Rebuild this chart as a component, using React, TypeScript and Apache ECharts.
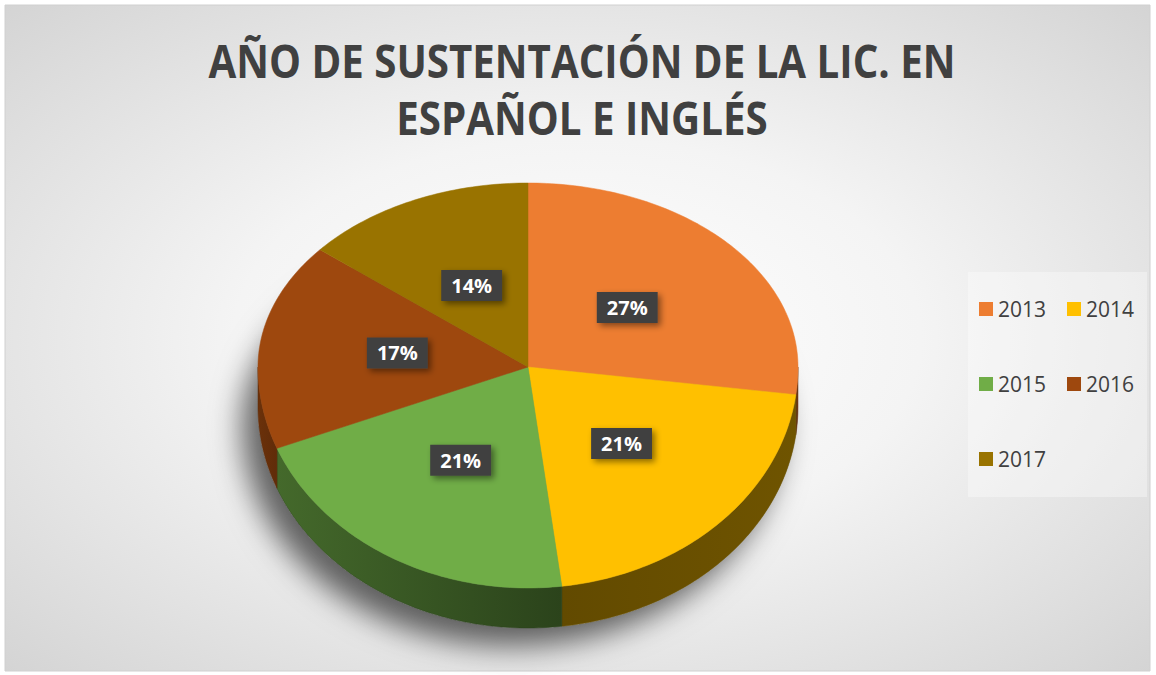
import React, { useEffect, useRef } from "react";
import * as echarts from "echarts";

const categories = ["2013", "2014", "2015", "2016", "2017"];
const values = [27, 21, 21, 17, 14];
const colors = ["#ED7D31", "#FFC000", "#70AD47", "#9E480E", "#997300"];
const titleLines = ["AÑO DE SUSTENTACIÓN DE LA LIC. EN", "ESPAÑOL E INGLÉS"];

// pie geometry (pixels)
const CX = 528;
const CY = 367;
const RX = 270;
const RY_TOP = 184;
const RY_BOT = 221;
const DEPTH = 40;
const LABEL_K = 0.49;

function pt(deg: number, dy: number, k = 1): number[] {
  const r = (deg * Math.PI) / 180;
  const s = Math.sin(r);
  const c = Math.cos(r);
  return [CX + k * RX * s, CY - k * c * (c > 0 ? RY_TOP : RY_BOT) + dy];
}

function arc(a: number, b: number, dy: number): number[][] {
  const pts: number[][] = [];
  const n = Math.max(2, Math.ceil(Math.abs(b - a)));
  for (let j = 0; j <= n; j++) pts.push(pt(a + ((b - a) * j) / n, dy));
  return pts;
}

function shade(hex: string, f: number): string {
  const n = parseInt(hex.slice(1), 16);
  const r = Math.round(((n >> 16) & 255) * f);
  const g = Math.round(((n >> 8) & 255) * f);
  const b = Math.round((n & 255) * f);
  return `rgb(${r},${g},${b})`;
}

function sideF(deg: number): number {
  return deg <= 180 ? 0.44 - (0.06 * (deg - 90)) / 90 : 0.38 + (0.3 * (deg - 180)) / 90;
}

export default function App() {
  const ref = useRef<HTMLDivElement>(null);
  useEffect(() => {
    document.body.style.margin = "0";
    if (!ref.current) return;
    const chart = echarts.init(ref.current, undefined, { renderer: "svg" });
    const total = values.reduce((a, b) => a + b, 0);
    const starts: number[] = [];
    let acc = 0;
    values.forEach((v) => {
      starts.push((acc / total) * 360);
      acc += v;
    });

    const renderItem = (params: any, api: any) => {
      const i = params.dataIndex;
      const v = api.value(0);
      const a0 = starts[i];
      const a1 = a0 + (v / total) * 360;
      const col = colors[i];
      const children: any[] = [];
      if (i === 0) {
        children.push({
          type: "polygon",
          z2: 0,
          shape: { points: arc(0, 360, DEPTH) },
          style: {
            fill: "#8a8a8a",
            shadowBlur: 30,
            shadowColor: "rgba(0,0,0,0.6)",
            shadowOffsetX: -16,
            shadowOffsetY: 18,
          },
        });
      }
      const a = Math.max(a0, 90);
      const b = Math.min(a1, 270);
      if (a < b) {
        const top = arc(a, b, 0);
        const bot = arc(b, a, DEPTH);
        children.push({
          type: "polygon",
          z2: 5,
          shape: { points: top.concat(bot) },
          style: {
            fill: new echarts.graphic.LinearGradient(1, 0, 0, 0, [
              { offset: 0, color: shade(col, sideF(a)) },
              { offset: 1, color: shade(col, sideF(b)) },
            ]),
            stroke: shade(col, sideF(a)),
            lineWidth: 0.5,
          },
        });
      }
      children.push({
        type: "polygon",
        z2: 10,
        shape: { points: [[CX, CY]].concat(arc(a0, a1, 0)) },
        style: { fill: col, stroke: col, lineWidth: 0.5 },
      });
      const mid = (a0 + a1) / 2;
      const lp = pt(mid, 0, LABEL_K);
      children.push({
        type: "text",
        z2: 100,
        x: lp[0],
        y: lp[1],
        style: {
          text: Math.round((v / total) * 100) + "%",
          fill: "#ffffff",
          font: 'bold 20px "Open Sans"',
          align: "center",
          verticalAlign: "middle",
          textAlign: "center",
          textVerticalAlign: "middle",
          backgroundColor: "#404040",
          padding: [6, 10, 5, 10],
          shadowBlur: 6,
          shadowColor: "rgba(0,0,0,0.45)",
          shadowOffsetX: 3,
          shadowOffsetY: 3,
        },
      });
      return { type: "group", children };
    };

    chart.setOption({
      animation: false,
      backgroundColor: "#ffffff",
      graphic: [
        {
          type: "rect",
          z: -10,
          shape: { x: 5, y: 5, width: 1145, height: 666 },
          style: {
            fill: new echarts.graphic.RadialGradient(0.5, 0.5, 1.0, [
              { offset: 0, color: "#ffffff" },
              { offset: 0.3, color: "#f4f4f4" },
              { offset: 1, color: "#bdbdbd" },
            ]),
            stroke: "#d0d0d0",
            lineWidth: 1,
          },
        },
        {
          type: "text",
          x: 582,
          y: 60,
          scaleX: 0.875,
          style: {
            text: titleLines[0],
            font: 'bold 46px "Open Sans"',
            fill: "#404040",
            textAlign: "center",
            textVerticalAlign: "middle",
          },
        },
        {
          type: "text",
          x: 582,
          y: 117,
          scaleX: 0.875,
          style: {
            text: titleLines[1],
            font: 'bold 46px "Open Sans"',
            fill: "#404040",
            textAlign: "center",
            textVerticalAlign: "middle",
          },
        },
      ],
      legend: {
        data: categories,
        left: 968,
        top: 272,
        width: 165,
        orient: "horizontal",
        icon: "rect",
        itemWidth: 14,
        itemHeight: 14,
        itemGap: 17,
        padding: [8, 9, 9, 11],
        backgroundColor: "rgba(255,255,255,0.35)",
        selectedMode: false,
        textStyle: {
          fontSize: 21,
          color: "#404040",
          fontFamily: "Open Sans",
          width: 52,
          lineHeight: 58,
        },
      },
      series: [
        {
          type: "pie",
          radius: [0, 0],
          center: [-50, -50],
          silent: true,
          label: { show: false },
          labelLine: { show: false },
          data: categories.map((c, i) => ({ name: c, value: values[i], itemStyle: { color: colors[i] } })),
        },
        {
          type: "custom",
          coordinateSystem: "none",
          silent: true,
          renderItem,
          data: values,
        },
      ],
    });
    return () => chart.dispose();
  }, []);
  return <div ref={ref} style={{ width: 1156, height: 675 }} />;
}
